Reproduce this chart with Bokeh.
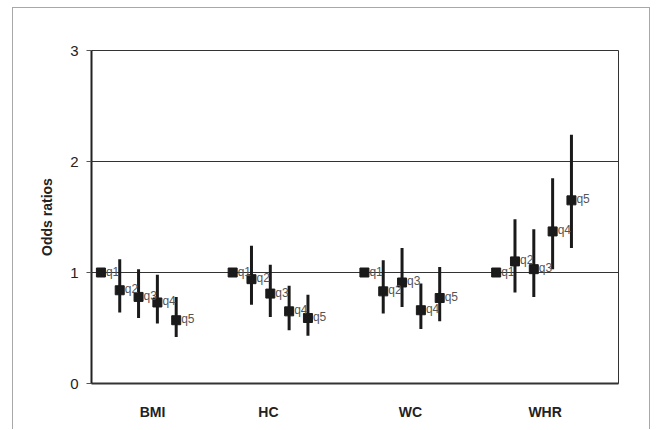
import numpy as np
from bokeh.plotting import figure
from bokeh.models import Range1d, FixedTicker, ColumnDataSource
from bokeh.core.properties import value
from bokeh.embed import file_html
from bokeh.resources import INLINE

# ---- data ----
groups = ["BMI", "HC", "WC", "WHR"]
quintiles = ["q1", "q2", "q3", "q4", "q5"]
odds = {
    "BMI": [1.00, 0.84, 0.78, 0.73, 0.57],
    "HC":  [1.00, 0.94, 0.81, 0.65, 0.59],
    "WC":  [1.00, 0.83, 0.91, 0.66, 0.77],
    "WHR": [1.00, 1.10, 1.03, 1.37, 1.65],
}
lower = {
    "BMI": [None, 0.64, 0.59, 0.54, 0.42],
    "HC":  [None, 0.71, 0.60, 0.48, 0.43],
    "WC":  [None, 0.63, 0.69, 0.49, 0.56],
    "WHR": [None, 0.82, 0.78, 1.03, 1.22],
}
upper = {
    "BMI": [None, 1.12, 1.03, 0.98, 0.78],
    "HC":  [None, 1.24, 1.07, 0.88, 0.80],
    "WC":  [None, 1.11, 1.22, 0.90, 1.05],
    "WHR": [None, 1.48, 1.39, 1.85, 2.24],
}
y_ticks = [0, 1, 2, 3]
slots_per_group = 7
group_label_pos = [3.24, 9.4, 16.95, 24.1]

# ---- build source ----
xs, ys, los, his, labs = [], [], [], [], []
for g, name in enumerate(groups):
    for k, q in enumerate(quintiles):
        xs.append(g * slots_per_group + k + 0.5)
        ys.append(odds[name][k])
        lo = lower[name][k]
        hi = upper[name][k]
        los.append(np.nan if lo is None else lo)
        his.append(np.nan if hi is None else hi)
        labs.append(q)
src = ColumnDataSource(dict(x=xs, y=ys, lo=los, hi=his, lab=labs))

FONT = "Liberation Sans"

p = figure(width=638, height=422, output_backend="svg", toolbar_location=None,
           x_range=Range1d(0, len(groups) * slots_per_group), y_range=Range1d(0, 3),
           min_border_left=78, min_border_top=42, min_border_right=33, min_border_bottom=47)
p.styles = {"margin-left": "12px", "margin-top": "7px",
            "border-left": "1px solid #a8a8a8", "border-top": "1px solid #a8a8a8",
            "border-right": "1px solid #a8a8a8"}

p.outline_line_color = "#333333"
p.outline_line_width = 1
p.background_fill_color = "white"
p.border_fill_color = "white"

# grid
p.xgrid.visible = False
p.ygrid.ticker = FixedTicker(ticks=[1, 2])
p.ygrid.grid_line_color = "#333333"
p.ygrid.grid_line_width = 1

# y axis
p.yaxis.ticker = FixedTicker(ticks=y_ticks)
p.yaxis.axis_label = "Odds ratios"
p.yaxis.axis_label_text_font = FONT
p.yaxis.axis_label_text_font_style = "bold"
p.yaxis.axis_label_text_font_size = "14px"
p.yaxis.axis_label_text_color = "#222222"
p.yaxis.axis_label_standoff = 12
p.yaxis.major_label_text_font = FONT
p.yaxis.major_label_text_font_size = "15px"
p.yaxis.major_label_text_color = "#222222"
p.yaxis.major_label_standoff = 8
p.yaxis.major_tick_out = 5
p.yaxis.major_tick_in = 0
p.yaxis.major_tick_line_color = "#555555"
p.yaxis.minor_tick_line_color = None
p.yaxis.axis_line_color = "#222222"
p.yaxis.axis_line_width = 2

# x axis (group labels)
p.xaxis.ticker = FixedTicker(ticks=group_label_pos)
p.xaxis.major_label_overrides = {pos: name for pos, name in zip(group_label_pos, groups)}
p.xaxis.major_label_text_font = FONT
p.xaxis.major_label_text_font_style = "bold"
p.xaxis.major_label_text_font_size = "14px"
p.xaxis.major_label_text_color = "#222222"
p.xaxis.major_label_standoff = 14
p.xaxis.major_tick_line_color = None
p.xaxis.minor_tick_line_color = None
p.xaxis.axis_line_color = "#333333"
p.xaxis.axis_line_width = 2

# error bars
p.segment(x0="x", y0="lo", x1="x", y1="hi", source=src, line_color="#1a1a1a", line_width=3)
# points
p.scatter(x="x", y="y", source=src, marker="square", size=9, fill_color="#1a1a1a", line_color="#1a1a1a")
# labels
p.text(x="x", y="y", text="lab", source=src, x_offset=5, y_offset=-1,
       text_font=value(FONT), text_font_size="12px", text_color="#555555",
       text_baseline="middle", text_align="left")

open("out.html", "w").write(file_html(p, INLINE))
